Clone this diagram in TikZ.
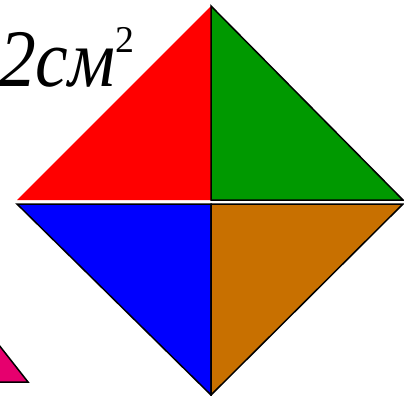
\documentclass[tikz,border=0pt]{standalone}
\usepackage{fontspec}
\setmainfont{Liberation Serif}
\definecolor{SqRed}{HTML}{FF0000}
\definecolor{SqGreen}{HTML}{009900}
\definecolor{SqBlue}{HTML}{0000FF}
\definecolor{SqBrown}{HTML}{C87000}
\definecolor{SqMagenta}{HTML}{E6006E}
\tikzset{
  sqpiece/.style={draw=black,line width=1.5bp,line join=miter},
  sqbare/.style={draw=none}
}
\begin{document}
\begin{tikzpicture}[x=1bp,y=-1bp]
  \useasboundingbox (0,0) rectangle (404,396);
  % upper half
  \fill[SqRed,sqbare] (211,6) -- (17,200) -- (211,200) -- cycle;
  \filldraw[fill=SqGreen,sqpiece] (211,6) -- (403,200) -- (211,200) -- cycle;
  % lower half
  \filldraw[fill=SqBlue,sqpiece] (17,204) -- (211,204) -- (211,395) -- cycle;
  \filldraw[fill=SqBrown,sqpiece] (211,204) -- (403,204) -- (211,395) -- cycle;
  % piece at the edge
  \filldraw[fill=SqMagenta,sqpiece] (-60,270) -- (28,382) -- (-60,382) -- cycle;
  % area label
  \node[anchor=base west,inner sep=0pt] (area) at (-1,86)
    {\scalebox{0.9}[1]{\fontsize{82}{86}\selectfont\itshape 2см}\raisebox{34bp}{\fontsize{38}{40}\selectfont 2}};
\end{tikzpicture}
\end{document}
